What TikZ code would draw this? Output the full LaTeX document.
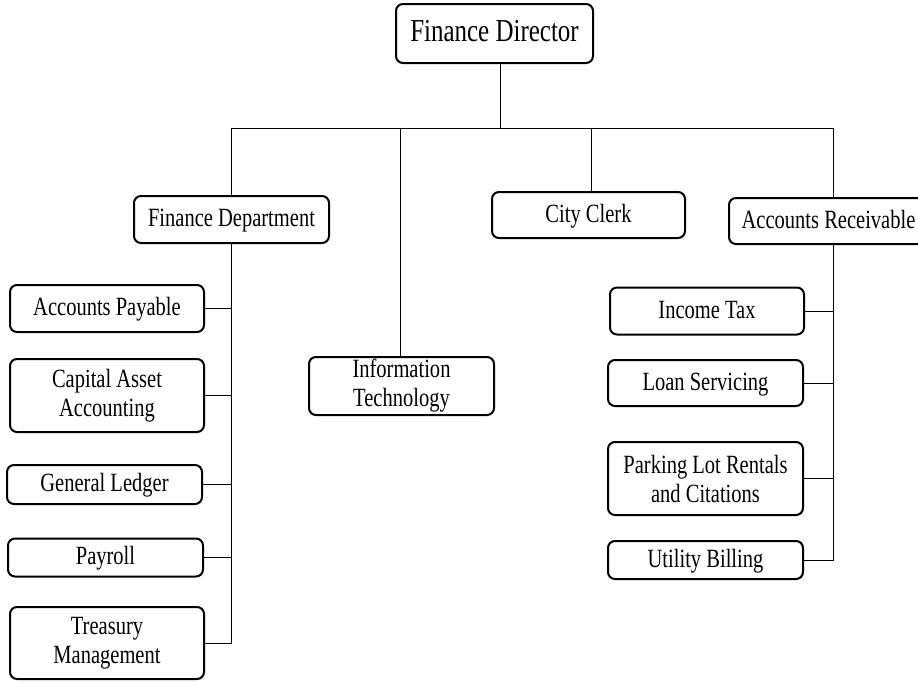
\documentclass[tikz,border=0pt]{standalone}
\usepackage{fontspec}
\setmainfont{Liberation Serif}[FakeStretch=0.78]
\begin{document}
\begin{tikzpicture}[x=1pt,y=-1pt,
  box/.style={draw=black,line width=2pt,rounded corners=7pt,fill=white,
    align=center,inner sep=0pt,font=\fontsize{26.3}{29}\selectfont,text=black},
  one/.style={box,align=none,text height=18pt,text depth=4pt},
  link/.style={draw=black,line width=1pt}]
\clip (0,0) rectangle (918,681);
\fill[white] (0,0) rectangle (918,681);
% top
\node[one,minimum width=197pt,minimum height=59pt,font=\fontsize{32}{36}\selectfont,text height=22pt,text depth=6pt] (fd) at (494.5,33.5) {Finance Director};
% second level
\node[one,minimum width=195pt,minimum height=47pt] (fdep) at (231.5,219.5) {Finance Department};
\node[box,minimum width=185pt,minimum height=58pt] (it) at (401.5,386) {Information\\Technology};
\node[one,minimum width=193pt,minimum height=46pt] (cc) at (588.5,215) {City Clerk};
\node[one,minimum width=208pt,minimum height=46pt] (ar) at (833,221) {Accounts Receivable\hspace*{9pt}};
% finance department children
\node[one,minimum width=194pt,minimum height=47pt] (ap) at (107,308.5) {Accounts Payable};
\node[box,minimum width=194pt,minimum height=73pt] (caa) at (107,395.5) {Capital Asset\\Accounting};
\node[one,minimum width=195pt,minimum height=39pt] (gl) at (104.5,484.5) {General Ledger};
\node[one,minimum width=195pt,minimum height=38pt] (pay) at (105.5,557.5) {Payroll};
\node[box,minimum width=194pt,minimum height=72pt] (tm) at (107,643) {Treasury\\Management};
% accounts receivable children
\node[one,minimum width=194pt,minimum height=47pt] (itx) at (707,311) {Income Tax};
\node[one,minimum width=195pt,minimum height=46pt] (lsv) at (705.5,383) {Loan Servicing};
\node[box,minimum width=195pt,minimum height=73pt] (pk) at (705.5,478.5) {Parking Lot Rentals\\and Citations};
\node[one,minimum width=195pt,minimum height=38pt] (ub) at (705.5,560) {Utility Billing};
% connectors
\coordinate (j) at (500.5,128.5);
\draw[link] ([xshift=6pt]fd.south) -- (j);
\draw[link] (fdep.north) |- (ar.north |- j) -- (ar.north);
\draw[link] ([xshift=-1.5pt]it.north) -- ([xshift=-1.5pt]it.north |- j);
\draw[link] ([xshift=2.5pt]cc.north) -- ([xshift=2.5pt]cc.north |- j);
% left spine
\draw[link] (fdep.south) |- (tm.east);
\foreach \n in {ap,caa,gl,pay} \draw[link] (\n.east) -- (\n.east -| fdep.south);
% right spine
\draw[link] (ar.south) |- (ub.east);
\foreach \n in {itx,lsv,pk} \draw[link] (\n.east) -- (\n.east -| ar.south);
\end{tikzpicture}
\end{document}
